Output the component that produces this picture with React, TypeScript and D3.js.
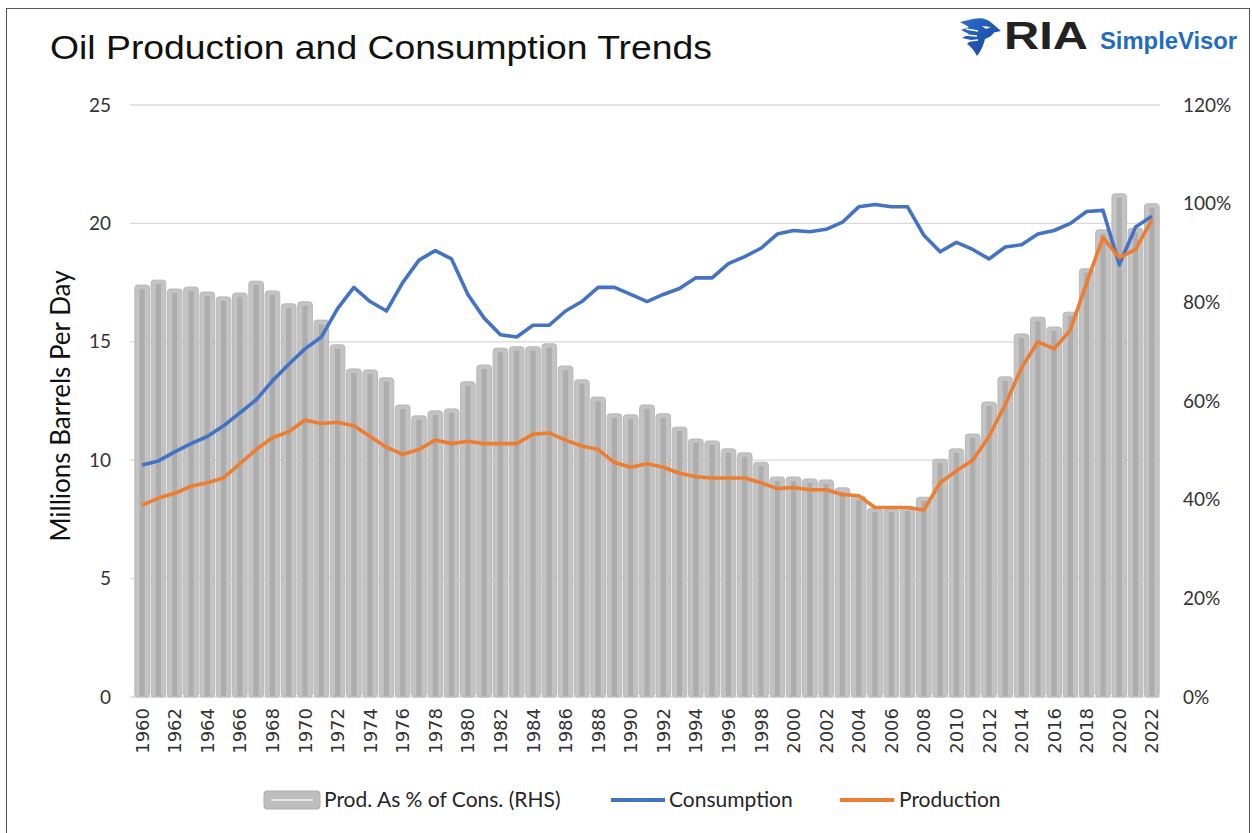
import React from 'react';
import * as d3 from 'd3';

const years = d3.range(1960, 2023);

// Millions of barrels per day (left axis)
const consumption = [
  9.8, 9.97, 10.35, 10.7, 11.0, 11.45, 12.0, 12.55, 13.35, 14.05,
  14.7, 15.2, 16.4, 17.3, 16.7, 16.3, 17.5, 18.45, 18.85, 18.5,
  17.0, 16.0, 15.3, 15.2, 15.7, 15.7, 16.3, 16.7, 17.3, 17.3,
  17.0, 16.7, 17.0, 17.25, 17.7, 17.7, 18.3, 18.6, 18.95, 19.55,
  19.7, 19.65, 19.75, 20.05, 20.7, 20.8, 20.7, 20.7, 19.5, 18.8,
  19.2, 18.9, 18.5, 19.0, 19.1, 19.55, 19.7, 20.0, 20.5, 20.55,
  18.25, 19.85, 20.3,
];

const production = [
  8.1, 8.4, 8.6, 8.9, 9.05, 9.25, 9.85, 10.45, 10.95, 11.2,
  11.7, 11.55, 11.6, 11.45, 11.0, 10.55, 10.25, 10.45, 10.85, 10.7,
  10.8, 10.7, 10.7, 10.7, 11.1, 11.15, 10.85, 10.6, 10.45, 9.9,
  9.7, 9.85, 9.7, 9.45, 9.3, 9.25, 9.25, 9.25, 9.05, 8.8,
  8.85, 8.75, 8.75, 8.55, 8.5, 8.0, 8.0, 8.0, 7.9, 9.05,
  9.55, 10.0, 11.0, 12.35, 13.9, 15.0, 14.7, 15.5, 17.5, 19.4,
  18.55, 18.9, 20.15,
];

// Production as % of consumption (right axis)
const prodPct = [
  83.5, 84.5, 82.7, 83.1, 82.1, 81.1, 81.9, 84.3, 82.3, 79.7,
  80.1, 76.4, 71.4, 66.5, 66.3, 64.7, 59.2, 57.0, 58.0, 58.4,
  63.9, 67.3, 70.7, 71.0, 71.0, 71.6, 67.1, 64.3, 60.8, 57.4,
  57.2, 59.2, 57.4, 54.7, 52.3, 51.9, 50.3, 49.5, 47.6, 44.6,
  44.6, 44.2, 44.0, 42.4, 40.7, 38.3, 38.3, 38.5, 40.5, 48.2,
  50.3, 53.3, 59.8, 64.9, 73.6, 77.0, 75.0, 78.0, 86.8, 94.7,
  102.0, 95.0, 100.0,
];

const leftTicks = [0, 5, 10, 15, 20, 25];
const rightTicks = [0, 20, 40, 60, 80, 100, 120];

const W = 1252;
const H = 833;
const plotLeft = 134;
const plotRight = 1160;
const plotTop = 105;
const plotBottom = 697;

const tickFont = 'Lato, "Open Sans", sans-serif';

export default function App() {
  const x = d3.scaleBand<number>().domain(years).range([plotLeft, plotRight]).paddingInner(0.1).paddingOuter(0.05);
  const yL = d3.scaleLinear().domain([0, 25]).range([plotBottom, plotTop]);
  const yR = d3.scaleLinear().domain([0, 120]).range([plotBottom, plotTop]);
  const cx = (yr: number) => (x(yr) as number) + x.bandwidth() / 2;

  const line = d3
    .line<number>()
    .x((_, i) => cx(years[i]))
    .y(d => yL(d))
    .curve(d3.curveLinear);

  const bw = x.bandwidth();

  return (
    <svg width={W} height={H} style={{ position: 'absolute', left: 0, top: 0, background: '#fff' }}>
      <defs>
        <linearGradient id="eagle" x1="0" y1="0" x2="1" y2="1">
          <stop offset="0" stopColor="#2c6fd1" />
          <stop offset="1" stopColor="#163f94" />
        </linearGradient>
      </defs>
      <rect x={6.5} y={8.5} width={1243} height={840} fill="none" stroke="#555" strokeWidth={1} />

      {/* title */}
      <text x={50} y={59} fontFamily='"Liberation Sans", Arial, sans-serif' fontSize={34} fill="#111"
        textLength={662} lengthAdjust="spacingAndGlyphs">
        Oil Production and Consumption Trends
      </text>

      {/* logo */}
      <g transform="translate(960,17)">
        <path
          d="M0,5 L13,2 Q25,-1 33,7 L41,14 L34,15.5 Q31,20 25,22 Q23,31 17,39 Q13,31 7,27 L11,23 L2,21 L9,17 L1,13 L9,10 Z"
          fill="url(#eagle)"
        />
        <path d="M22,9 L31,10 L26,12 Z" fill="#fff" />
        <path d="M6,12 L18,14 M5,18 L17,19 M9,24 L18,23" stroke="#fff" strokeWidth={1.3} fill="none" />
      </g>
      <text x={1004} y={49} fontFamily='"Liberation Sans", Arial, sans-serif' fontWeight="bold" fontSize={38}
        fill="#222" textLength={84} lengthAdjust="spacingAndGlyphs">
        RIA
      </text>
      <text x={1100} y={49} fontFamily='"Liberation Sans", Arial, sans-serif' fontWeight="bold" fontSize={24}
        fill="#1f6cc4" textLength={137} lengthAdjust="spacingAndGlyphs">
        SimpleVisor
      </text>

      {/* gridlines */}
      {leftTicks.map(t => (
        <line key={t} x1={130} x2={plotRight} y1={yL(t)} y2={yL(t)} stroke="#d9d9d9" strokeWidth={1.3} />
      ))}

      {/* bars */}
      {prodPct.map((v, i) => {
        const bx = x(years[i]) as number;
        const top = yR(v);
        return (
          <g key={years[i]}>
            <rect x={bx} y={top} width={bw} height={plotBottom - top} rx={3} fill="#c3c3c3" stroke="#b9b9b9" strokeWidth={1} />
            <rect x={bx + bw / 2 - 2.6} y={top + 4} width={5.2} height={plotBottom - top - 5} fill="#adadad" />
          </g>
        );
      })}

      {/* lines */}
      <path d={line(consumption) || ''} fill="none" stroke="#4472c4" strokeWidth={3.6} strokeLinejoin="round" />
      <path d={line(production) || ''} fill="none" stroke="#ed7d31" strokeWidth={3.6} strokeLinejoin="round" />

      {/* left axis */}
      {leftTicks.map(t => (
        <text key={t} x={111} y={yL(t)} dy="0.35em" textAnchor="end" fontFamily={tickFont} fontSize={19} fill="#333">
          {t}
        </text>
      ))}
      {/* right axis */}
      {rightTicks.map(t => (
        <text key={t} x={1183} y={yR(t)} dy="0.35em" textAnchor="start" fontFamily={tickFont} fontSize={19} fill="#333">
          {t}%
        </text>
      ))}

      <text
        transform={`translate(70,${(plotTop + plotBottom) / 2 + 5}) rotate(-90)`}
        textAnchor="middle"
        fontFamily={tickFont}
        fontSize={26}
        fill="#111"
      >
        Millions Barrels Per Day
      </text>

      {/* year labels */}
      {years.filter(y => y % 2 === 0).map(y => (
        <text
          key={y}
          transform={`translate(${cx(y)},708) rotate(-90)`}
          textAnchor="end"
          dominantBaseline="central"
          fontFamily='"DejaVu Sans", sans-serif'
          fontSize={18}
          fill="#333"
        >
          {y}
        </text>
      ))}

      {/* legend */}
      <g fontFamily={tickFont} fontSize={21} fill="#262626">
        <rect x={264} y={791} width={56} height={18} rx={3} fill="#bdbdbd" stroke="#acacac" />
        <line x1={271} x2={313} y1={800} y2={800} stroke="#e2e2e2" strokeWidth={2} />
        <text x={324} y={807}>Prod. As % of Cons. (RHS)</text>
        <line x1={611} x2={665} y1={800} y2={800} stroke="#4472c4" strokeWidth={4} />
        <text x={669} y={807}>Consumption</text>
        <line x1={840} x2={894} y1={800} y2={800} stroke="#ed7d31" strokeWidth={4} />
        <text x={899} y={807}>Production</text>
      </g>
    </svg>
  );
}
